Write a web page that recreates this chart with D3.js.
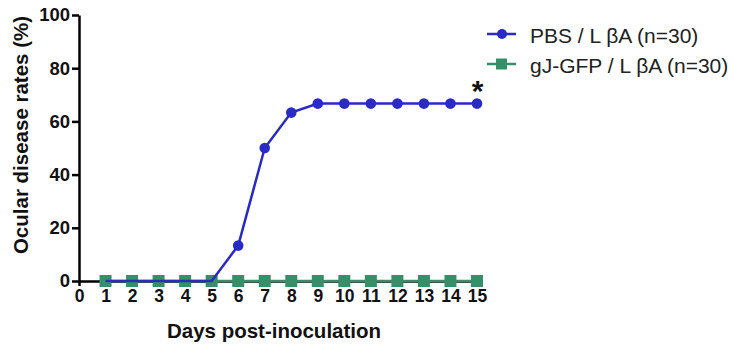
<!DOCTYPE html>
<html><head><meta charset="utf-8">
<script src="https://cdn.jsdelivr.net/npm/d3@7"></script>
<style>body{margin:0;background:#fff}svg{display:block}</style>
</head><body>
<svg id="c" width="734" height="349"></svg>
<script>
const days = [1,2,3,4,5,6,7,8,9,10,11,12,13,14,15];
const pbs = [0,0,0,0,0,13.3,50,63.3,66.7,66.7,66.7,66.7,66.7,66.7,66.7];
const gj = [0,0,0,0,0,0,0,0,0,0,0,0,0,0,0];
const xTicks = [0,1,2,3,4,5,6,7,8,9,10,11,12,13,14,15];
const yTicks = [0,20,40,60,80,100];
const seriesNames = ["PBS / L \u03b2A (n=30)", "gJ-GFP / L \u03b2A (n=30)"];
const colors = ["#2a2ac4", "#35906a"];

const svg = d3.select("#c");
const x = d3.scaleLinear().domain([0,15]).range([79,477]);
const y = d3.scaleLinear().domain([0,100]).range([281,15]);
const font = "'Liberation Sans', Arial, sans-serif";

const xa = svg.append("g").attr("transform","translate(0,281)")
  .call(d3.axisBottom(x).tickValues(xTicks).tickFormat(d3.format("d")).tickSize(5).tickPadding(4).tickSizeOuter(0));
const ya = svg.append("g").attr("transform","translate(79,0)")
  .call(d3.axisLeft(y).tickValues(yTicks).tickSize(7).tickPadding(2).tickSizeOuter(0));
[xa,ya].forEach(a=>{
  a.select(".domain").attr("stroke","#000").attr("stroke-width",2.5);
  a.selectAll(".tick line").attr("stroke","#000").attr("stroke-width",2.5);
  a.selectAll("text").attr("font-family",font).attr("font-weight","bold").attr("font-size",17.5).attr("fill","#111");
});
ya.selectAll("text").attr("font-size",18.5);

svg.append("text").attr("x",274).attr("y",338).attr("text-anchor","middle")
  .attr("font-family",font).attr("font-weight","bold").attr("font-size",20.5).attr("fill","#111")
  .text("Days post-inoculation");
svg.append("text").attr("transform","translate(28,135) rotate(-90)").attr("text-anchor","middle")
  .attr("font-family",font).attr("font-weight","bold").attr("font-size",20.5).attr("fill","#111")
  .text("Ocular disease rates (%)");

const line = d3.line().x((d,i)=>x(days[i])).y(d=>y(d));
// green series
svg.append("path").datum(gj).attr("d",line).attr("fill","none").attr("stroke",colors[1]).attr("stroke-width",2.5);
svg.selectAll(".sq").data(gj).enter().append("rect")
  .attr("x",(d,i)=>x(days[i])-6).attr("y",d=>y(d)-6).attr("width",12).attr("height",12).attr("fill",colors[1]);
// blue series
svg.append("path").datum(pbs).attr("d",line).attr("fill","none").attr("stroke",colors[0]).attr("stroke-width",2.5);
svg.selectAll(".ci").data(pbs.map((v,i)=>({v,i})).filter(d=>d.v>0)).enter().append("circle")
  .attr("cx",d=>x(days[d.i])).attr("cy",d=>y(d.v)).attr("r",5.3).attr("fill",colors[0]);

svg.append("text").attr("x",x(15)+0.5).attr("y",y(66.7)-3).attr("text-anchor","middle")
  .attr("font-family",font).attr("font-weight","bold").attr("font-size",30).attr("fill","#111").text("*");

// legend
const lg = svg.append("g");
seriesNames.forEach((n,i)=>{
  const ly = 34 + i*30;
  lg.append("line").attr("x1",487).attr("x2",516).attr("y1",ly).attr("y2",ly).attr("stroke",colors[i]).attr("stroke-width",2.5);
  if(i===0) lg.append("circle").attr("cx",502).attr("cy",ly).attr("r",5).attr("fill",colors[i]);
  else lg.append("rect").attr("x",496).attr("y",ly-5.5).attr("width",11).attr("height",11).attr("fill",colors[i]);
  lg.append("text").attr("x",530).attr("y",ly+9).attr("font-family",font).attr("font-size",21).attr("fill","#222").text(n);
});
</script>
</body></html>
